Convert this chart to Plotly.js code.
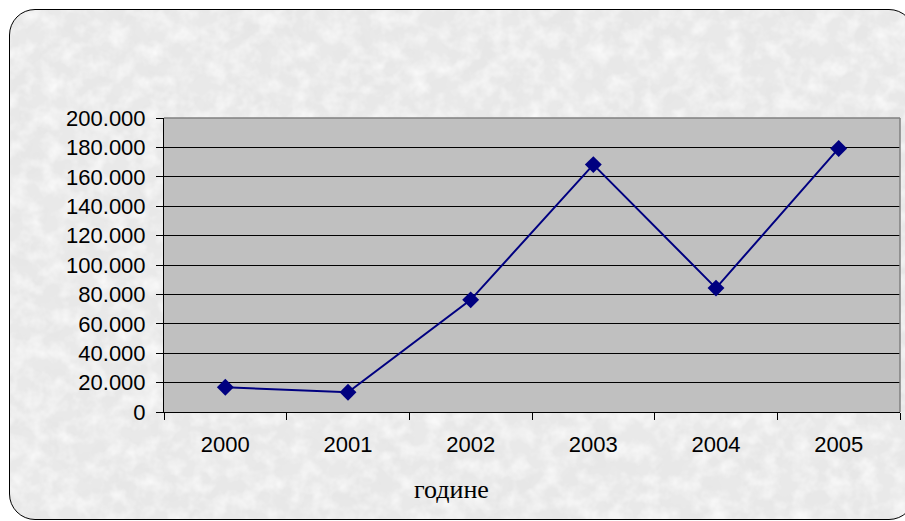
<!DOCTYPE html>
<html>
<head>
<meta charset="utf-8">
<script src="https://cdn.plot.ly/plotly-3.0.1.min.js"></script>
<style>
  html, body { margin: 0; padding: 0; background: #ffffff; }
  #wrap { position: relative; width: 905px; height: 521px; overflow: hidden; background: #ffffff; }
  #frame {
    position: absolute; left: 9px; top: 9px; width: 906px; height: 511px;
    border: 1.5px solid #000; border-radius: 26px; box-sizing: border-box;
    background-color: #e9e9e9;
    background-image: url("data:image/svg+xml;utf8,<svg xmlns='http://www.w3.org/2000/svg' width='906' height='511'><filter id='n'><feTurbulence type='fractalNoise' baseFrequency='0.03' numOctaves='4' seed='7'/><feColorMatrix type='matrix' values='0 0 0 0 0.75 0 0 0 0 0.75 0 0 0 0 0.75 0.7 0 0 0 -0.28'/></filter><filter id='w'><feTurbulence type='fractalNoise' baseFrequency='0.06' numOctaves='3' seed='11'/><feColorMatrix type='matrix' values='0 0 0 0 1 0 0 0 0 1 0 0 0 0 1 -1.4 0 0 0 0.85'/></filter><rect width='100%' height='100%' filter='url(%23n)'/><rect width='100%' height='100%' filter='url(%23w)'/></svg>");
  }
  #chart { position: absolute; left: 0; top: 0; width: 905px; height: 521px; }
</style>
</head>
<body>
<div id="wrap">
  <div id="frame"></div>
  <div id="chart"></div>
</div>
<script>
const years = ['2000', '2001', '2002', '2003', '2004', '2005'];
const values = [16800, 13400, 76300, 168300, 84300, 179300];
const yTicks = [0, 20000, 40000, 60000, 80000, 100000, 120000, 140000, 160000, 180000, 200000];
const xTitle = 'године';

const trace = {
  x: years,
  y: values,
  type: 'scatter',
  mode: 'lines+markers',
  line: { color: '#000080', width: 2 },
  marker: { symbol: 'diamond', size: 13, color: '#000080' },
  hoverinfo: 'skip'
};

const labelFont = { family: 'Liberation Sans, Arial, sans-serif', size: 22, color: '#000' };

const layout = {
  width: 905, height: 521,
  margin: { l: 164, r: 5, t: 118, b: 109, pad: 0 },
  paper_bgcolor: 'rgba(0,0,0,0)',
  plot_bgcolor: '#c0c0c0',
  separators: ',.',
  showlegend: false,
  font: labelFont,
  xaxis: {
    type: 'category',
    range: [-0.5, 5.5],
    tickson: 'boundaries',
    ticks: 'outside', ticklen: 7, tickcolor: '#000', tickwidth: 1,
    showline: true, linecolor: '#000', linewidth: 1,
    showgrid: false, zeroline: false,
    ticklabelstandoff: 13,
    tickfont: labelFont,
    fixedrange: true
  },
  yaxis: {
    range: [0, 200000],
    tickvals: yTicks,
    tickformat: ',d',
    ticks: 'outside', ticklen: 7, tickcolor: '#000', tickwidth: 1,
    showline: true, linecolor: '#000', linewidth: 1,
    showgrid: true, gridcolor: '#000', gridwidth: 1,
    zeroline: false,
    ticklabelstandoff: 6,
    tickfont: labelFont,
    fixedrange: true
  },
  shapes: [
    { type: 'line', xref: 'paper', yref: 'paper', x0: 0, x1: 1, y0: 1, y1: 1, line: { color: '#808080', width: 1.5 } },
    { type: 'line', xref: 'paper', yref: 'paper', x0: 1, x1: 1, y0: 0, y1: 1, line: { color: '#808080', width: 1.5 } }
  ],
  annotations: [
    { text: xTitle, xref: 'paper', yref: 'paper', x: 0.391, y: -0.262, xanchor: 'center', yanchor: 'middle',
      showarrow: false, font: { family: 'Liberation Serif, Times New Roman, serif', size: 26, color: '#000' } }
  ]
};

Plotly.newPlot('chart', [trace], layout, { displayModeBar: false, staticPlot: true });
</script>
</body>
</html>
